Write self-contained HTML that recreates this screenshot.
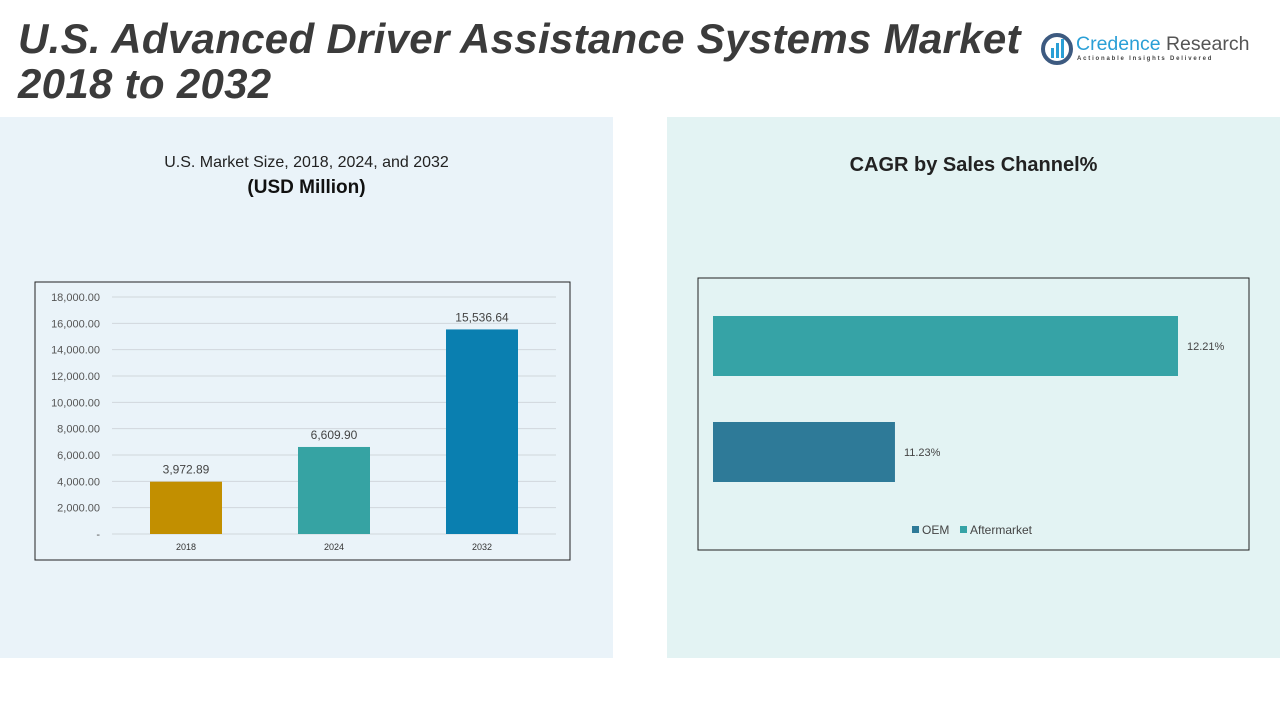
<!DOCTYPE html>
<html><head><meta charset="utf-8"><style>
body{margin:0;width:1280px;height:720px;background:#fff;font-family:"Liberation Sans",sans-serif;position:relative;overflow:hidden}
.abs{position:absolute}
</style></head><body>
<div class="abs" style="left:0;top:117px;width:613px;height:541px;background:#eaf3f9"></div>
<div class="abs" style="left:667px;top:117px;width:613px;height:541px;background:#e3f3f3"></div>
<div class="abs" style="left:18px;top:16px;font-size:42px;letter-spacing:0.3px;font-weight:bold;font-style:italic;color:#3b3b3b;line-height:45px">U.S. Advanced Driver Assistance Systems Market<br>2018 to 2032</div>
<div class="abs" style="left:1040px;top:32px;width:215px;height:36px">
<svg width="34" height="34" style="position:absolute;left:0;top:0"><circle cx="17" cy="17" r="14" fill="none" stroke="#3d5a80" stroke-width="4"/><rect x="11" y="16" width="3" height="10" fill="#2a9fd6"/><rect x="16" y="11" width="3" height="15" fill="#2a9fd6"/><rect x="21" y="7" width="3" height="19" fill="#2a9fd6"/></svg>
<div class="abs" style="left:36px;top:1px;font-size:19.5px;color:#2a9fd6;white-space:nowrap">Credence <span style="color:#555">Research</span></div>
<div class="abs" style="left:37px;top:24px;font-size:6px;letter-spacing:1.8px;color:#444;white-space:nowrap;font-weight:bold">Actionable Insights Delivered</div>
</div>
<div class="abs" style="left:0;top:154px;width:613px;text-align:center;font-size:16px;color:#222">U.S. Market Size, 2018, 2024, and 2032</div>
<div class="abs" style="left:0;top:177px;width:613px;text-align:center;font-size:19px;font-weight:bold;color:#111">(USD Million)</div>
<div class="abs" style="left:667px;top:154px;width:613px;text-align:center;font-size:20px;font-weight:bold;color:#222">CAGR by Sales Channel%</div>
<svg class="abs" id="bar" style="left:0;top:0" width="640" height="720"></svg>
<svg class="abs" id="hbar" style="left:640px;top:0" width="640" height="720"></svg>
<script>
const years=["2018","2024","2032"];
const sizes=[3972.89,6609.90,15536.64];
const sizeLabels=["3,972.89","6,609.90","15,536.64"];
const yTicks=[0,2000,4000,6000,8000,10000,12000,14000,16000,18000];
const yTickLabels=["-","2,000.00","4,000.00","6,000.00","8,000.00","10,000.00","12,000.00","14,000.00","16,000.00","18,000.00"];
const barColors=["#c28f00","#36a3a3","#0a7fb0"];
const channels=["Aftermarket","OEM"];
const cagr=[12.21,11.23];
const cagrLabels=["12.21%","11.23%"];
const cagrColors=["#36a3a6","#2e7a98"];
const NS="http://www.w3.org/2000/svg";
function mk(p,t,a){const e=document.createElementNS(NS,t);for(const k in a)e.setAttribute(k,a[k]);p.appendChild(e);return e;}
const s=document.getElementById('bar');
mk(s,'rect',{x:35,y:282,width:535,height:278,fill:'none',stroke:'#222','stroke-width':1});
const y=v=>534-(v/18000)*237;
yTicks.forEach((t,i)=>{
 const l=mk(s,'line',{x1:112,x2:556,y1:y(t),y2:y(t),stroke:'#d0d7dc','stroke-width':1});
 
 const tx=mk(s,'text',{x:100,y:y(t)+4,'text-anchor':'end','font-size':11,fill:'#555'});
 
 tx.textContent=yTickLabels[i];
});
const bw=72,band=148,x0=112;
years.forEach((yr,i)=>{
 const cx=x0+band*(i+0.5);
 const r=mk(s,'rect',{x:cx-bw/2,y:y(sizes[i]),width:bw,height:534-y(sizes[i]),fill:barColors[i]});
 
 const v=mk(s,'text',{x:cx,y:y(sizes[i])-8,'text-anchor':'middle','font-size':12,fill:'#444'});
 
 v.textContent=sizeLabels[i];
 const xl=mk(s,'text',{x:cx,y:550,'text-anchor':'middle','font-size':9,fill:'#333'});
 
 xl.textContent=yr;
});
const h=document.getElementById('hbar');
mk(h,'rect',{x:58,y:278,width:551,height:272,fill:'none',stroke:'#222','stroke-width':1});
const xs=v=>73+(v-10.6)/(12.21-10.6)*465;
const ys=[316,422];
channels.forEach((c,i)=>{
 const r=mk(h,'rect',{x:73,y:ys[i],width:xs(cagr[i])-73,height:60,fill:cagrColors[i]});
 
 const t=mk(h,'text',{x:xs(cagr[i])+9,y:ys[i]+34,'font-size':11,fill:'#444'});
 
 t.textContent=cagrLabels[i];
});
const leg=[["OEM","#2e7a98",272],["Aftermarket","#36a3a6",320]];
leg.forEach(l=>{
 const r=mk(h,'rect',{x:l[2],y:526,width:7,height:7,fill:l[1]});
 
 const t=mk(h,'text',{x:l[2]+10,y:534,'font-size':12,fill:'#444'});
 
 t.textContent=l[0];
});
</script>
</body></html>
